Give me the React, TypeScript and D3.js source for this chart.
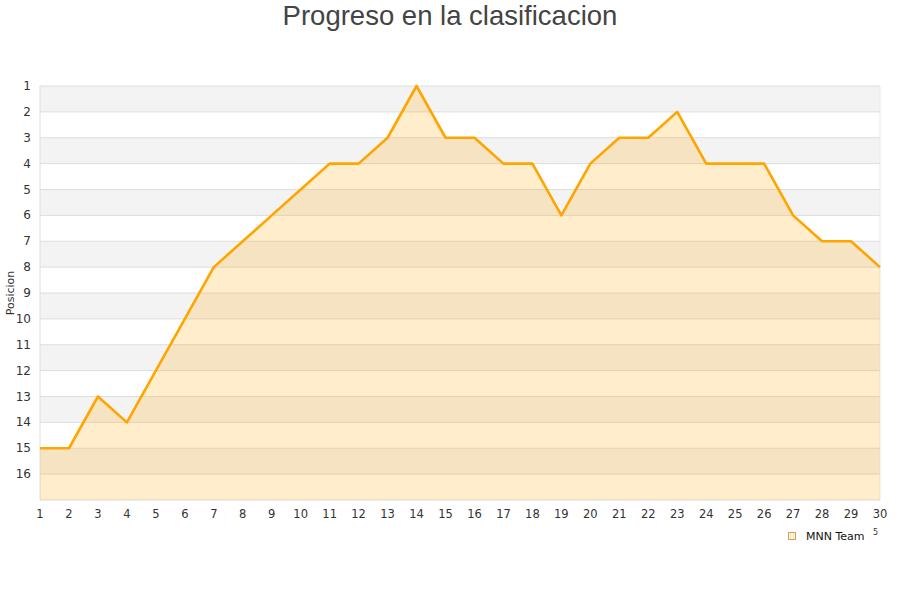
import React from "react";
import * as d3 from "d3";

const jornadas = d3.range(1, 31);
const posiciones = [15, 15, 13, 14, 12, 10, 8, 7, 6, 5, 4, 4, 3, 1, 3, 3, 4, 4, 6, 4, 3, 3, 2, 4, 4, 4, 6, 7, 7, 8];
const yTicks = d3.range(1, 17);
const serie = "MNN Team";

const W = 900;
const H = 600;
const left = 40;
const right = 880;
const top = 86;
const bottom = 500;

const App = () => {
  const x = d3.scaleLinear().domain([1, 30]).range([left, right]);
  const y = d3.scaleLinear().domain([1, 17]).range([top, bottom]);
  const data = jornadas.map((j, i) => ({ j, p: posiciones[i] }));

  const line = d3
    .line<{ j: number; p: number }>()
    .x((d) => x(d.j))
    .y((d) => y(d.p));
  const area = d3
    .area<{ j: number; p: number }>()
    .x((d) => x(d.j))
    .y0(y(17))
    .y1((d) => y(d.p));

  return (
    <svg width={W} height={H} style={{ position: "absolute", left: 0, top: 0 }}>
      <rect width={W} height={H} fill="#fff" />
      <text
        x={W / 2}
        y={25}
        textAnchor="middle"
        fontFamily="Liberation Sans, Arial, sans-serif"
        fontSize={27.5}
        fill="#444"
      >
        Progreso en la clasificacion
      </text>

      {/* bandas */}
      {d3.range(1, 17).map((v) =>
        v % 2 === 1 ? (
          <rect key={v} x={left} y={y(v)} width={right - left} height={y(v + 1) - y(v)} fill="#f3f3f3" />
        ) : null
      )}
      {d3.range(1, 18).map((v) => (
        <line key={v} x1={left} x2={right} y1={y(v)} y2={y(v)} stroke="#dddddd" strokeWidth={1} />
      ))}
      <line x1={left} x2={left} y1={top} y2={bottom} stroke="#dddddd" />
      <line x1={right} x2={right} y1={top} y2={bottom} stroke="#e8e8e8" />

      <path d={area(data) as string} fill="rgba(255,165,0,0.2)" />
      <path d={line(data) as string} fill="none" stroke="#ffa500" strokeWidth={2.6} strokeLinejoin="round" />

      <g fontFamily="DejaVu Sans, sans-serif" fontSize={12} fill="#333">
        {yTicks.map((t) => (
          <text key={t} x={31} y={y(t) + 4} textAnchor="end">
            {t}
          </text>
        ))}
        {jornadas.map((t) => (
          <text key={t} x={x(t)} y={518} textAnchor="middle" fontSize={11.5}>
            {t}
          </text>
        ))}
        <text transform={`translate(14,293) rotate(-90)`} textAnchor="middle" fontSize={11}>
          Posicion
        </text>
      </g>

      {/* leyenda */}
      <rect x={788.5} y={532.5} width={7} height={7} fill="rgba(255,165,0,0.2)" stroke="#c9a46a" />
      <text x={806} y={540} fontFamily="DejaVu Sans, sans-serif" fontSize={11} fill="#111">
        {serie}
      </text>
      <text x={873} y={535} fontFamily="DejaVu Sans, sans-serif" fontSize={8} fill="#333">
        5
      </text>
    </svg>
  );
};

export default App;
